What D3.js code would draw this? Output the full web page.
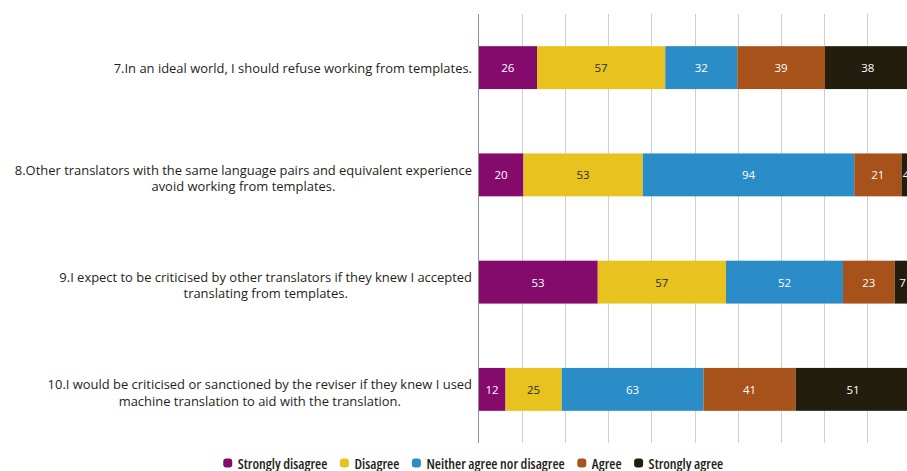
<!DOCTYPE html>
<html>
<head>
<meta charset="utf-8">
<script src="https://cdn.jsdelivr.net/npm/d3@7"></script>
<style>
  html, body { margin: 0; padding: 0; background: #fff; }
  svg { display: block; }
</style>
</head>
<body>
<svg id="chart" width="907" height="471"></svg>
<script>
// ---- data ----
const categories = [
  "7.In an ideal world, I should refuse working from templates.",
  "8.Other translators with the same language pairs and equivalent experience\navoid working from templates.",
  "9.I expect to be criticised by other translators if they knew I accepted\ntranslating from templates.",
  "10.I would be criticised or sanctioned by the reviser if they knew I used\nmachine translation to aid with the translation."
];
const seriesNames = ["Strongly disagree", "Disagree", "Neither agree nor disagree", "Agree", "Strongly agree"];
const stronglyDisagree = [26, 20, 53, 12];
const disagree = [57, 53, 57, 25];
const neither = [32, 94, 52, 63];
const agree = [39, 21, 23, 41];
const stronglyAgree = [38, 4, 7, 51];
const percentTicks = [0, 10, 20, 30, 40, 50, 60, 70, 80, 90, 100];
const colors = ["#840a6c", "#e8c31f", "#2a8dc8", "#a6521a", "#221d0c"];
const labelColors = ["#ffffff", "#2b2b2b", "#ffffff", "#ffffff", "#ffffff"];

// ---- build table ----
const seriesValues = [stronglyDisagree, disagree, neither, agree, stronglyAgree];
const rows = categories.map((c, i) => {
  const r = { cat: c };
  seriesNames.forEach((s, j) => r[s] = seriesValues[j][i]);
  r.total = d3.sum(seriesValues, v => v[i]);
  return r;
});
const pctRows = rows.map(r => {
  const o = { cat: r.cat };
  seriesNames.forEach(s => o[s] = r[s] / r.total * 100);
  o.raw = r;
  return o;
});
const stack = d3.stack().keys(seriesNames)(pctRows);

// ---- layout ----
const svg = d3.select("#chart");
const plotLeft = 478.5, plotTop = 14, plotBottom = 443;
const x = d3.scaleLinear().domain([0, 100]).range([plotLeft, plotLeft + 432]);
const y = d3.scaleBand().domain(categories).range([plotTop, plotBottom]).paddingInner(0.6).paddingOuter(0.3);

// gridlines
svg.append("g").selectAll("line").data(percentTicks.filter(t => t > 0)).join("line")
  .attr("x1", d => Math.round(x(d)) + 0.5).attr("x2", d => Math.round(x(d)) + 0.5)
  .attr("y1", plotTop).attr("y2", plotBottom)
  .attr("stroke", "#cfcfcf").attr("stroke-width", 1);

// bars
const g = svg.append("g");
stack.forEach((layer, j) => {
  const lg = g.append("g");
  lg.selectAll("rect").data(layer).join("rect")
    .attr("x", d => x(d[0]))
    .attr("width", d => x(d[1]) - x(d[0]))
    .attr("y", d => y(d.data.cat))
    .attr("height", y.bandwidth())
    .attr("fill", colors[j]);
  lg.selectAll("text").data(layer).join("text")
    .attr("x", d => (x(d[0]) + x(d[1])) / 2)
    .attr("y", d => y(d.data.cat) + y.bandwidth() / 2)
    .attr("text-anchor", "middle")
    .attr("dominant-baseline", "central")
    .attr("font-family", "'Open Sans', sans-serif")
    .attr("font-size", 11.5)
    .attr("fill", labelColors[j])
    .text(d => d.data.raw[seriesNames[j]]);
});

// axis line
svg.append("line")
  .attr("x1", plotLeft).attr("x2", plotLeft)
  .attr("y1", plotTop).attr("y2", plotBottom)
  .attr("stroke", "#8f8f8f").attr("stroke-width", 1);

// category labels (wrapped, centered lines, block right-aligned)
const labelFont = "'Open Sans', sans-serif";
const labelSize = 12.95;
const catG = svg.append("g");
categories.forEach(c => {
  const lines = c.split("\n");
  const grp = catG.append("g");
  const texts = lines.map(l => grp.append("text")
    .attr("font-family", labelFont).attr("font-size", labelSize)
    .attr("fill", "#231f20").attr("text-anchor", "middle")
    .attr("dominant-baseline", "central").text(l));
  const maxW = d3.max(texts, t => t.node().getComputedTextLength());
  const cx = 472 - maxW / 2;
  const cy = y(c) + y.bandwidth() / 2 + (lines.length > 1 ? 3 : 0);
  const lh = 16.5;
  texts.forEach((t, i) => t.attr("x", cx).attr("y", cy + (i - (lines.length - 1) / 2) * lh));
});

// legend
const legG = svg.append("g");
const legendSize = 14.2;
const items = seriesNames.map((s, i) => {
  const ig = legG.append("g");
  ig.append("rect").attr("x", -4.5).attr("y", -4.5).attr("width", 9).attr("height", 9)
    .attr("rx", 3).attr("fill", colors[i]);
  const t = ig.append("text").attr("x", 10).attr("y", 0)
    .attr("dominant-baseline", "central")
    .attr("font-family", labelFont).attr("font-size", legendSize).attr("font-weight", 600)
    .style("font-stretch", "condensed")
    .attr("fill", "#231f20").text(s);
  return { g: ig, t };
});
items.forEach(it => it.w = 10 + it.t.node().getComputedTextLength());
const gap = 17;
const totalW = d3.sum(items, d => d.w) + gap * (items.length - 1);
let cur = 471 - totalW / 2 + 4.5;
items.forEach(it => { it.g.attr("transform", `translate(${cur},463)`); cur += it.w + gap; });
</script>
</body>
</html>
